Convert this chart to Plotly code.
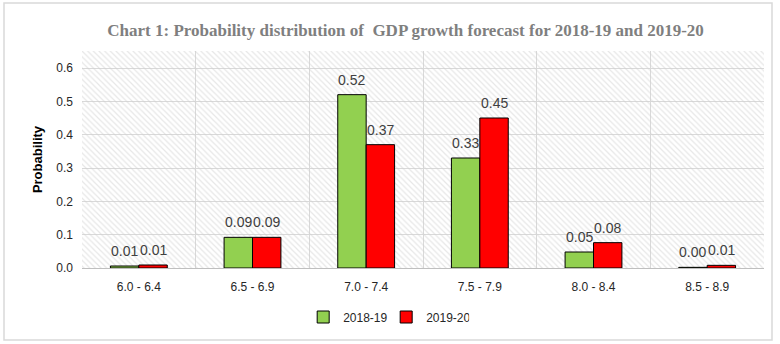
import plotly.graph_objects as go

categories = ["6.0 - 6.4", "6.5 - 6.9", "7.0 - 7.4", "7.5 - 7.9", "8.0 - 8.4", "8.5 - 8.9"]
fy2018_19 = [0.006, 0.092, 0.52, 0.33, 0.048, 0.002]
fy2019_20 = [0.009, 0.092, 0.37, 0.45, 0.076, 0.008]
labels_2018_19 = ["0.01", "0.09", "0.52", "0.33", "0.05", "0.00"]
labels_2019_20 = ["0.01", "0.09", "0.37", "0.45", "0.08", "0.01"]
yticks = [0.0, 0.1, 0.2, 0.3, 0.4, 0.5, 0.6]

W, H = 780, 344
ML, MR, MT, MB = 82, 16, 51, 76
pw, ph = W - ML - MR, H - MT - MB
YMAX = 0.651

fig = go.Figure()
# hatched plot-area background
fig.add_trace(go.Bar(
    x=[0.5], y=[YMAX], width=[1], xaxis="x", yaxis="y",
    marker=dict(color="rgba(255,255,255,0)", line=dict(width=0),
                pattern=dict(shape="\\", fgcolor="#cfcfcf", bgcolor="rgba(255,255,255,0)",
                             size=4, solidity=0.3)),
    showlegend=False, hoverinfo="skip"))

common = dict(xaxis="x2", yaxis="y", cliponaxis=False, hoverinfo="x+y")
fig.add_trace(go.Bar(name="2018-19", x=categories, y=fy2018_19,
                     marker=dict(color="#92d050", line=dict(color="#000000", width=1)), **common))
fig.add_trace(go.Bar(name="2019-20", x=categories, y=fy2019_20,
                     marker=dict(color="#ff0000", line=dict(color="#000000", width=1)), **common))

# data labels, placed above each bar of its group
for series, labels, side in ((fy2018_19, labels_2018_19, -1), (fy2019_20, labels_2019_20, 1)):
    for cat, val, lab in zip(categories, series, labels):
        fig.add_annotation(xref="x2", yref="y", x=cat, y=val, text=lab, showarrow=False,
                           xshift=side * 14.2, yshift=15, yanchor="middle",
                           font=dict(family="Liberation Sans", size=14, color="#404040"))

# outer border
bx0, bx1, by0, by1 = 4, 772, 3, 340
fig.add_shape(type="rect", xref="paper", yref="paper",
              x0=(bx0 - ML) / pw, x1=(bx1 - ML) / pw,
              y0=1 - (by1 - MT) / ph, y1=1 - (by0 - MT) / ph,
              line=dict(color="#d9d9d9", width=1.5), fillcolor="rgba(0,0,0,0)", layer="below")

fig.update_layout(
    width=W, height=H, margin=dict(l=ML, r=MR, t=MT, b=MB, autoexpand=False),
    paper_bgcolor="white", plot_bgcolor="white",
    barmode="group", bargap=0.5, bargroupgap=0,
    font=dict(family="Liberation Sans", size=12, color="#404040"),
    title=dict(text="<b>Chart 1: Probability distribution of  GDP growth forecast for 2018-19 and 2019-20</b>",
               x=0.52, xanchor="center", y=1 - 30 / H, yanchor="middle",
               font=dict(family="Liberation Serif", size=17, color="#7f7f7f")),
    xaxis=dict(range=[0, 1], tickvals=[i / 6 for i in range(7)], showticklabels=False,
               showgrid=True, gridcolor="#d9d9d9", gridwidth=1, zeroline=False,
               showline=False, ticks=""),
    xaxis2=dict(overlaying="x", side="bottom", type="category", showgrid=False,
                showline=True, linecolor="#bfbfbf", linewidth=1, ticks="",
                tickfont=dict(size=12, color="#262626"), ticklabelstandoff=8),
    yaxis=dict(range=[0, YMAX], tickvals=yticks, tickformat=".1f", showgrid=True,
               gridcolor="#d9d9d9", zeroline=False, showline=False, ticks="",
               ticklabelstandoff=8, tickfont=dict(size=12, color="#262626"),
               title=dict(text="<b>Probability</b>", standoff=10,
                          font=dict(size=13, color="#000000"))),
    legend=dict(orientation="h", x=0.446, xanchor="center", yref="container",
                y=1 - 317 / H, yanchor="middle", entrywidth=38,
                font=dict(size=12, color="#262626"), traceorder="normal"),
)

fig.write_html("out.html")
